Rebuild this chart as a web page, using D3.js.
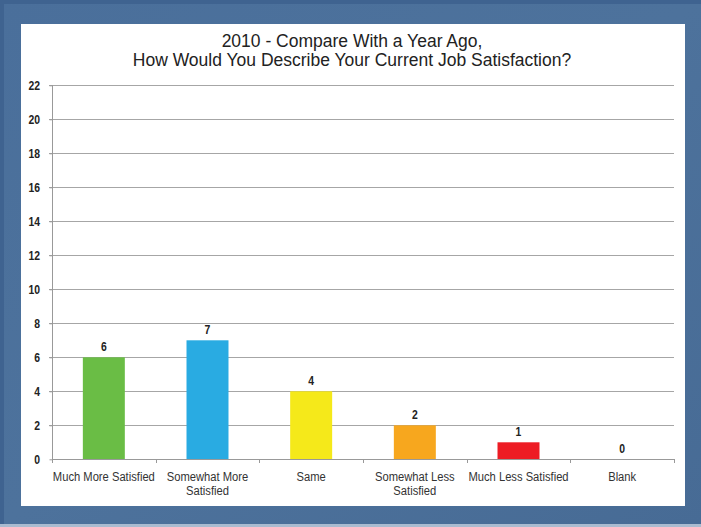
<!DOCTYPE html>
<html><head><meta charset="utf-8">
<script src="https://cdn.jsdelivr.net/npm/d3@7"></script>
<style>body{margin:0;padding:0;background:#4a6e98;}svg{display:block;}</style>
</head><body>
<svg id="c" width="701" height="527"></svg>
<script>
const categories = ["Much More Satisfied", "Somewhat More Satisfied", "Same", "Somewhat Less Satisfied", "Much Less Satisfied", "Blank"];
const values = [6, 7, 4, 2, 1, 0];
const colors = ["#6abd45", "#29abe2", "#f5e91a", "#f7a71e", "#ed1c24", "#999999"];
const yTicks = [0, 2, 4, 6, 8, 10, 12, 14, 16, 18, 20, 22];
const titleLines = ["2010 - Compare With a Year Ago,", "How Would You Describe Your Current Job Satisfaction?"];
const labelLines = [["Much More Satisfied"], ["Somewhat More", "Satisfied"], ["Same"], ["Somewhat Less", "Satisfied"], ["Much Less Satisfied"], ["Blank"]];

const NARROW = 0.8;
const NARROW_CAT = 0.83;
const FONT = "'Liberation Sans',Arial,sans-serif";
const svg = d3.select("#c");
const defs = svg.append("defs");
const g1 = defs.append("linearGradient").attr("id","bg").attr("x1","0").attr("y1","0").attr("x2","1").attr("y2","1");
g1.append("stop").attr("offset","0").attr("stop-color","#4a6f9b");
g1.append("stop").attr("offset","0.5").attr("stop-color","#4d729c");
g1.append("stop").attr("offset","1").attr("stop-color","#476b95");
svg.append("rect").attr("width",701).attr("height",527).attr("fill","url(#bg)");
svg.append("rect").attr("x",0).attr("y",0).attr("width",701).attr("height",4).attr("fill","#3f6390");
svg.append("rect").attr("x",0).attr("y",0).attr("width",4).attr("height",527).attr("fill","#3f6390");
svg.append("rect").attr("x",0).attr("y",524).attr("width",701).attr("height",3).attr("fill","#a9bbd0");
svg.append("rect").attr("x",21).attr("y",24).attr("width",664).attr("height",482).attr("fill","#ffffff");

const x = d3.scaleBand().domain(categories).range([52, 674]).paddingInner(0.595).paddingOuter(0.2975);
const y = d3.scaleLinear().domain([0, 22]).range([459.3, 85.3]);

// gridlines
svg.append("g").selectAll("line").data(yTicks.filter(d => d > 0)).join("line")
  .attr("x1", 49).attr("x2", 674)
  .attr("y1", d => Math.round(y(d)) + 0.5).attr("y2", d => Math.round(y(d)) + 0.5)
  .attr("stroke", "#a6a6a6").attr("stroke-width", 1);

// y axis
const yAxis = d3.axisLeft(y).tickValues(yTicks).tickSize(3).tickFormat("");
const ya = svg.append("g").attr("transform", "translate(52.5,0)").call(yAxis);
ya.select(".domain").attr("stroke", "#999").attr("d", `M0,${y(22)}V${y(0)}`);
ya.selectAll(".tick line").attr("stroke", "#999");
svg.append("g").selectAll("text").data(yTicks).join("text")
  .attr("transform", d => `translate(40,${y(d) + 4.5}) scale(${NARROW},1)`)
  .attr("text-anchor", "end")
  .attr("font-family", FONT).attr("font-weight", "bold").attr("font-size", 13).attr("fill", "#222")
  .text(d => d);

// bars
svg.append("g").selectAll("rect").data(values).join("rect")
  .attr("x", (d, i) => x(categories[i]))
  .attr("width", x.bandwidth())
  .attr("y", d => y(d))
  .attr("height", d => y(0) - y(d))
  .attr("fill", (d, i) => colors[i]);

// value labels
svg.append("g").selectAll("text").data(values).join("text")
  .attr("transform", (d, i) => `translate(${x(categories[i]) + x.bandwidth() / 2},${y(d) - 6}) scale(${NARROW},1)`)
  .attr("text-anchor", "middle")
  .attr("font-family", FONT).attr("font-weight", "bold").attr("font-size", 13).attr("fill", "#222")
  .text(d => d);

// x axis
const xa = svg.append("g");
xa.append("line").attr("x1", 52).attr("x2", 674).attr("y1", Math.round(y(0)) + 0.5).attr("y2", Math.round(y(0)) + 0.5).attr("stroke", "#999");
const tickXs = d3.range(categories.length + 1).map(i => 52 + i * (622 / categories.length));
xa.selectAll("line.t").data(tickXs).join("line").attr("class", "t")
  .attr("x1", d => Math.round(d) + 0.5).attr("x2", d => Math.round(d) + 0.5)
  .attr("y1", Math.round(y(0))).attr("y2", Math.round(y(0)) + 4).attr("stroke", "#999");
const lbl = xa.selectAll("text.c").data(categories).join("text").attr("class", "c")
  .attr("transform", d => `translate(${x(d) + x.bandwidth() / 2},481) scale(${NARROW_CAT},1)`)
  .attr("text-anchor", "middle")
  .attr("font-family", FONT).attr("font-size", 13.5).attr("fill", "#333");
lbl.each(function(d, i) {
  const t = d3.select(this);
  labelLines[i].forEach((s, j) => {
    t.append("tspan").attr("x", 0).attr("dy", j === 0 ? 0 : 14.5).text(s);
  });
});

// title
svg.append("g").selectAll("text").data(titleLines).join("text")
  .attr("x", 352).attr("y", (d, i) => 47 + i * 18.5)
  .attr("text-anchor", "middle")
  .attr("font-family", FONT)
  .attr("font-size", 17.5).attr("fill", "#222")
  .text(d => d);
</script>
</body></html>
